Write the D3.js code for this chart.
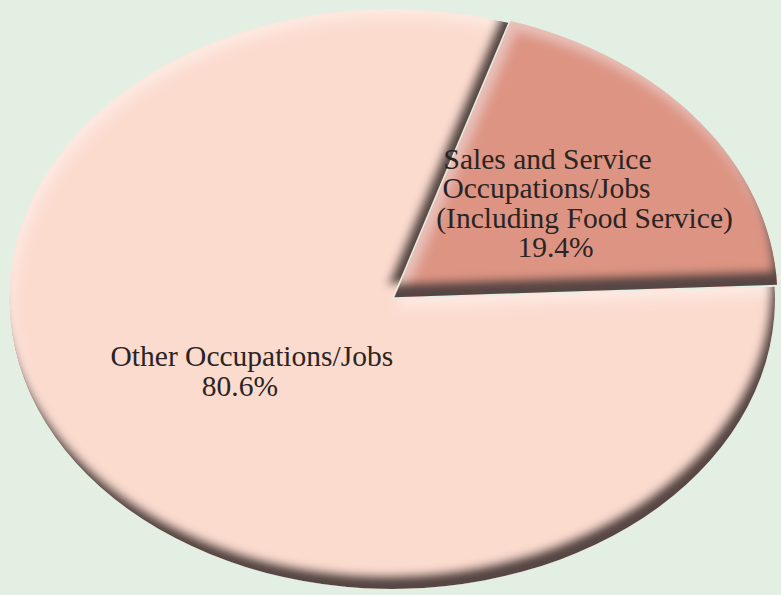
<!DOCTYPE html>
<html>
<head>
<meta charset="utf-8">
<script src="https://cdn.jsdelivr.net/npm/d3@7"></script>
<style>
  html, body { margin: 0; padding: 0; background: #e3efe3; }
  svg { display: block; }
  .sliceText { font-family: "Liberation Serif", "DejaVu Serif", serif; font-size: 29.5px; fill: #2b2423; }
</style>
</head>
<body>
<div id="chart"></div>
<script>
// chart data
const categories = ['Sales and Service Occupations/Jobs (Including Food Service)', 'Other Occupations/Jobs'];
const shares = [19.4, 80.6];
const labelLines = [
  ['Sales and Service', 'Occupations/Jobs', '(Including Food Service)', '19.4%'],
  ['Other Occupations/Jobs', '80.6%']
];
const sliceColors = ['#dd9483', '#fcdbcf'];

const PieChart = {
  svgSize: {width: 781, height: 595},
  center: {x: 392, y: 299},
  radius: {x: 383, y: 290},
  explode: 3,
  // small nudges so each text line sits where it does in the original
  lineNudge: [[{dx: 1, dy: -40}, {dx: 0, dy: -11}, {dx: 38, dy: 19}, {dx: 9, dy: 48}],
              [{dx: 12, dy: -21}, {dx: 0, dy: 9}]],

  createSVG: function() {
    this.svg = d3.select('#chart').append('svg')
      .attr('width', this.svgSize.width)
      .attr('height', this.svgSize.height)
    this.svg.append('rect')
      .attr('width', this.svgSize.width)
      .attr('height', this.svgSize.height)
      .attr('fill', '#e3efe3')
  },

  createFilter: function() {
    const f = this.svg.append('defs').append('filter')
      .attr('id', 'bevel')
      .attr('x', '-10%').attr('y', '-10%').attr('width', '120%').attr('height', '120%')
    // dark inner edge at the bottom / right
    f.append('feGaussianBlur').attr('in', 'SourceAlpha').attr('stdDeviation', 4).attr('result', 'b1')
    f.append('feOffset').attr('in', 'b1').attr('dx', -5).attr('dy', -14).attr('result', 'o1')
    f.append('feComposite').attr('in', 'SourceAlpha').attr('in2', 'o1')
      .attr('operator', 'arithmetic').attr('k2', 1).attr('k3', -1).attr('result', 'm1')
    f.append('feFlood').attr('flood-color', '#574745').attr('flood-opacity', 1).attr('result', 'c1')
    f.append('feComposite').attr('in', 'c1').attr('in2', 'm1').attr('operator', 'in').attr('result', 'shadow')
    // light inner edge at the top / left
    f.append('feGaussianBlur').attr('in', 'SourceAlpha').attr('stdDeviation', 6).attr('result', 'b2')
    f.append('feOffset').attr('in', 'b2').attr('dx', 5).attr('dy', 9).attr('result', 'o2')
    f.append('feComposite').attr('in', 'SourceAlpha').attr('in2', 'o2')
      .attr('operator', 'arithmetic').attr('k2', 1).attr('k3', -1).attr('result', 'm2')
    f.append('feFlood').attr('flood-color', '#ffffff').attr('flood-opacity', 0.35).attr('result', 'c2')
    f.append('feComposite').attr('in', 'c2').attr('in2', 'm2').attr('operator', 'in').attr('result', 'light')
    const merge = f.append('feMerge')
    merge.append('feMergeNode').attr('in', 'SourceGraphic')
    merge.append('feMergeNode').attr('in', 'light')
    merge.append('feMergeNode').attr('in', 'shadow')
  },

  createAngles: function() {
    // rotate so the small slice sits around 52 degrees from 12 o'clock
    const mid = 52.6 * Math.PI / 180;
    const span = 2 * Math.PI * shares[0] / d3.sum(shares);
    const start = mid - span / 2;
    this.pie = d3.pie().sort(null).value((d) => d.value)
      .startAngle(start).endAngle(start + 2 * Math.PI);
    this.data = categories.map((c, i) => ({name: c, value: shares[i], lines: labelLines[i], color: sliceColors[i]}));
    this.arcsData = this.pie(this.data);
  },

  setupArcs: function() {
    this.arc = d3.arc().innerRadius(0).outerRadius(this.radius.x);
  },

  offsetFor: function(d, i) {
    if (i !== 0) return {x: 0, y: 0};
    const a = (d.startAngle + d.endAngle) / 2;
    return {x: Math.sin(a) * this.explode, y: -Math.cos(a) * this.explode};
  },

  createPaths: function() {
    const sy = this.radius.y / this.radius.x;
    // big slice first so the exploded one sits on top
    const order = [1, 0];
    order.forEach((i) => {
      const d = this.arcsData[i];
      const off = this.offsetFor(d, i);
      this.svg.append('g')
        .attr('filter', 'url(#bevel)')
        .append('g')
        .attr('transform', `translate(${this.center.x + off.x}, ${this.center.y + off.y}) scale(1, ${sy})`)
        .append('path')
        .attr('d', this.arc(d))
        .attr('fill', d.data.color)
    });
  },

  createLabels: function() {
    const sy = this.radius.y / this.radius.x;
    this.arcsData.forEach((d, i) => {
      const c = this.arc.centroid(d);
      const off = this.offsetFor(d, i);
      const x = this.center.x + off.x + c[0];
      const y = this.center.y + off.y + c[1] * sy;
      const g = this.svg.append('g').attr('transform', `translate(${x}, ${y})`);
      g.selectAll('text').data(d.data.lines).enter()
        .append('text')
        .attr('class', 'sliceText')
        .attr('text-anchor', 'middle')
        .attr('x', (t, j) => this.lineNudge[i][j].dx)
        .attr('y', (t, j) => this.lineNudge[i][j].dy)
        .text((t) => t)
    });
  },

  loadChart: function() {
    this.createSVG();
    this.createFilter();
    this.createAngles();
    this.setupArcs();
    this.createPaths();
    this.createLabels();
  }
}

PieChart.loadChart();
</script>
</body>
</html>
